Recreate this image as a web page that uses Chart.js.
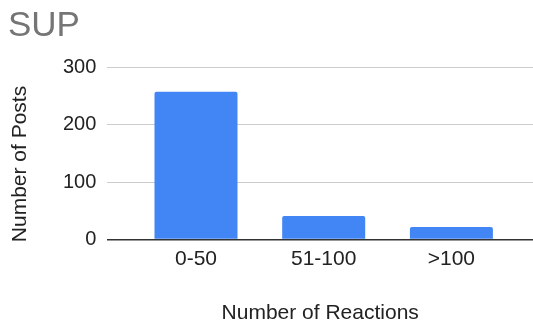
<!DOCTYPE html>
<html>
<head>
<meta charset="utf-8">
<script src="https://cdn.jsdelivr.net/npm/chart.js@4"></script>
<style>
  html, body { margin: 0; padding: 0; background: #fff; }
  #wrap { width: 533px; height: 324px; }
</style>
</head>
<body>
<div id="wrap"><canvas id="postsChart"></canvas></div>
<script>
// data
const categories = ["0-50", "51-100", ">100"];
const postCounts = [257, 41, 22];
const yTicks = [0, 100, 200, 300];

const FONT = "'Liberation Sans', Arial, sans-serif";

// y title sits a bit below the plot's middle in the original, so draw it ourselves
const yTitlePlugin = {
    id: "yTitle",
    afterDraw: chart => {
        const y = chart.scales.y;
        const c = chart.ctx;
        c.save();
        c.translate(y.left + 12, 164);
        c.rotate(-Math.PI / 2);
        c.fillStyle = "#222";
        c.font = "21px " + FONT;
        c.textAlign = "center";
        c.textBaseline = "middle";
        c.fillText("Number of Posts", 0, 0);
        c.restore();
    }
};

const ctx = document.getElementById("postsChart").getContext("2d");
const postsChart = new Chart(ctx, {
    type: "bar",
    data: {
        datasets: [{
            label: "Number of Posts",
            data: postCounts.map((v, i) => ({ x: i, y: v })),
            backgroundColor: "#4285f4",
            borderRadius: { topLeft: 2, topRight: 2 },
            borderSkipped: "bottom",
            categoryPercentage: 1,
            barPercentage: 0.65
        }]
    },
    options: {
        responsive: true,
        maintainAspectRatio: false,
        animation: false,
        layout: { padding: { left: 8, right: 0, top: 0, bottom: -2 } },
        plugins: {
            legend: { display: false },
            tooltip: { enabled: false },
            title: {
                display: true,
                text: "SUP",
                align: "start",
                color: "#757575",
                font: { family: FONT, size: 35, weight: "normal" },
                padding: { top: 5, bottom: 20 }
            }
        },
        scales: {
            x: {
                type: "linear",
                offset: false,
                min: -0.694,
                max: 2.639,
                afterBuildTicks: axis => { axis.ticks = categories.map((c, i) => ({ value: i })); },
                ticks: {
                    callback: value => categories[value],
                    color: "#222",
                    font: { family: FONT, size: 21 },
                    padding: 7,
                    maxRotation: 0
                },
                grid: { display: false, drawTicks: false },
                border: { display: false },
                title: {
                    display: true,
                    text: "Number of Reactions",
                    color: "#222",
                    font: { family: FONT, size: 21 },
                    padding: { top: 22, bottom: 0 }
                }
            },
            y: {
                min: 0,
                max: 300,
                afterBuildTicks: axis => { axis.ticks = yTicks.map(v => ({ value: v })); },
                ticks: {
                    color: "#222",
                    font: { family: FONT, size: 20 },
                    padding: 11
                },
                grid: {
                    color: c => c.tick.value === 0 ? "#333" : "#cccccc",
                    lineWidth: c => c.tick.value === 0 ? 1.5 : 1,
                    drawTicks: false
                },
                border: { display: false },
                title: {
                    display: true,
                    text: "Number of Posts",
                    color: "rgba(0,0,0,0)",
                    font: { family: FONT, size: 20 },
                    padding: { top: 0, bottom: 20 }
                }
            }
        }
    },
    plugins: [yTitlePlugin]
});
</script>
</body>
</html>
